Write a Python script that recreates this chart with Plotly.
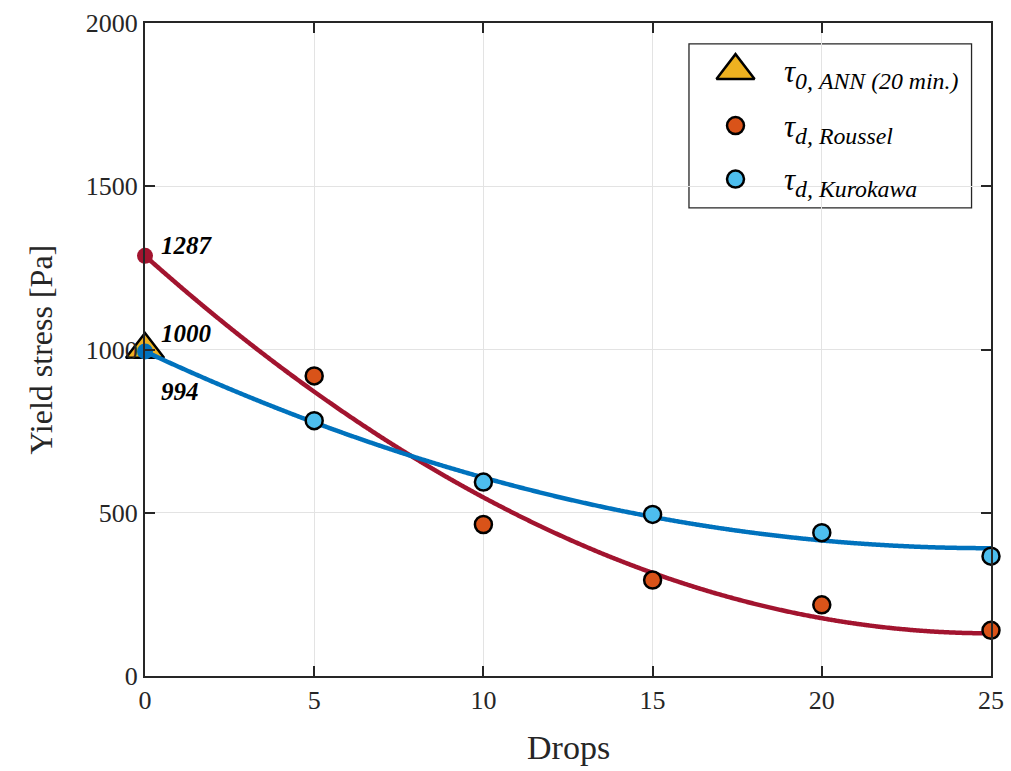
import numpy as np
import plotly.graph_objects as go

# Measured yield stress at each number of drops
drops = [5, 10, 15, 20, 25]
roussel = [919, 464, 294, 218, 140]
kurokawa = [782, 594, 495, 439, 367]

# ANN prediction (20 min.) at zero drops
ann_x = [0]
ann_y = [1000]

# Quadratic fits (highest power first) for each model
roussel_fit = [1.85, -92.5, 1287]
kurokawa_fit = [0.968, -48.3, 994]

x_ticks = [0, 5, 10, 15, 20, 25]
y_ticks = [0, 500, 1000, 1500, 2000]

C_ROUSSEL_LINE = "#A2142F"
C_KUROKAWA_LINE = "#0072BD"
C_ROUSSEL = "#D95319"
C_KUROKAWA = "#4DBEEE"
C_ANN = "#EDB120"
INK = "#262626"
FONT = "Liberation Serif"

xs = np.linspace(0, 25, 400)

fig = go.Figure()

# ANN value
fig.add_trace(go.Scatter(
    x=ann_x, y=ann_y, mode="markers", cliponaxis=False, showlegend=False,
    marker=dict(symbol="triangle-up", size=33, color=C_ANN,
                line=dict(color="black", width=2.5)),
))

# Fitted curves with start points
for coeffs, color in ((roussel_fit, C_ROUSSEL_LINE), (kurokawa_fit, C_KUROKAWA_LINE)):
    fig.add_trace(go.Scatter(
        x=xs, y=np.polyval(coeffs, xs), mode="lines", cliponaxis=False,
        showlegend=False, line=dict(color=color, width=4.5, shape="spline"),
    ))
    fig.add_trace(go.Scatter(
        x=[0], y=[np.polyval(coeffs, 0)], mode="markers", cliponaxis=False,
        showlegend=False, marker=dict(size=16, color=color),
    ))

# Measured points
for vals, color in ((roussel, C_ROUSSEL), (kurokawa, C_KUROKAWA)):
    fig.add_trace(go.Scatter(
        x=drops, y=vals, mode="markers", cliponaxis=False, showlegend=False,
        marker=dict(size=17, color=color, line=dict(color="black", width=2.5)),
    ))

# Legend drawn on an overlay axis in paper-like units
leg_y = [0.927, 0.843, 0.761]
fig.add_trace(go.Scatter(
    x=[0.698], y=[leg_y[0]], xaxis="x2", yaxis="y2", mode="markers",
    showlegend=False, hoverinfo="skip",
    marker=dict(symbol="triangle-up", size=33, color=C_ANN,
                line=dict(color="black", width=2.5)),
))
fig.add_trace(go.Scatter(
    x=[0.698, 0.698], y=leg_y[1:], xaxis="x2", yaxis="y2", mode="markers",
    showlegend=False, hoverinfo="skip",
    marker=dict(size=17, color=[C_ROUSSEL, C_KUROKAWA],
                line=dict(color="black", width=2.5)),
))

TAU = "<span style='font-size:31px'><i>τ</i></span>"
leg_labels = [
    TAU + "<sub><i>0, ANN (20 min.)</i></sub>",
    TAU + "<sub><i>d, Roussel</i></sub>",
    TAU + "<sub><i>d, Kurokawa</i></sub>",
]
annotations = []
for yy, lab in zip(leg_y, leg_labels):
    annotations.append(dict(
        x=0.7535, y=yy, xref="paper", yref="paper", text=lab, showarrow=False,
        xanchor="left", yanchor="middle", yshift=-3,
        font=dict(family=FONT, size=34, color="black"),
    ))

# Value labels at zero drops
for val, dy in ((1287, 10), (1000, 16), (994, -40)):
    annotations.append(dict(
        x=0, y=val, xref="x", yref="y", text=f"<b><i>{val}</i></b>",
        showarrow=False, xanchor="left", yanchor="middle",
        xshift=14, yshift=dy,
        font=dict(family=FONT, size=25, color="black"),
    ))

# Axis titles
annotations.append(dict(
    x=0.5, y=0, xref="paper", yref="paper", text="Drops", showarrow=False,
    xanchor="center", yanchor="middle", yshift=-71,
    font=dict(family=FONT, size=34, color=INK),
))
annotations.append(dict(
    x=0, y=0.5, xref="paper", yref="paper", text="Yield stress [Pa]",
    showarrow=False, textangle=-90, xanchor="center", yanchor="middle",
    xshift=-105, font=dict(family=FONT, size=32, color=INK),
))

fig.update_layout(
    width=1011, height=771,
    margin=dict(l=145, r=19.5, t=22.5, b=94.5, autoexpand=False),
    paper_bgcolor="white", plot_bgcolor="white",
    font=dict(family=FONT, color=INK),
    annotations=annotations,
    shapes=[dict(type="rect", xref="paper", yref="paper",
                 x0=0.643, x1=0.977, y0=0.717, y1=0.968,
                 line=dict(color=INK, width=1.3), fillcolor="white",
                 layer="below")],
    xaxis=dict(
        range=[0, 25], tickvals=x_ticks, ticks="inside", ticklen=10,
        tickwidth=2, tickcolor=INK, showline=True, linewidth=2,
        linecolor=INK, mirror="ticks", showgrid=True, gridcolor="#e3e3e3",
        gridwidth=1, zeroline=False, tickfont=dict(size=26, color=INK),
        automargin=False,
    ),
    yaxis=dict(
        range=[0, 2000], tickvals=y_ticks, ticks="inside", ticklen=10,
        tickwidth=2, tickcolor=INK, showline=True, linewidth=2,
        linecolor=INK, mirror="ticks", showgrid=True, gridcolor="#e3e3e3",
        gridwidth=1, zeroline=False, tickfont=dict(size=26, color=INK),
        automargin=False,
    ),
    xaxis2=dict(range=[0, 1], overlaying="x", visible=False, fixedrange=True),
    yaxis2=dict(range=[0, 1], overlaying="y", visible=False, fixedrange=True),
)

fig.write_html("out.html")
